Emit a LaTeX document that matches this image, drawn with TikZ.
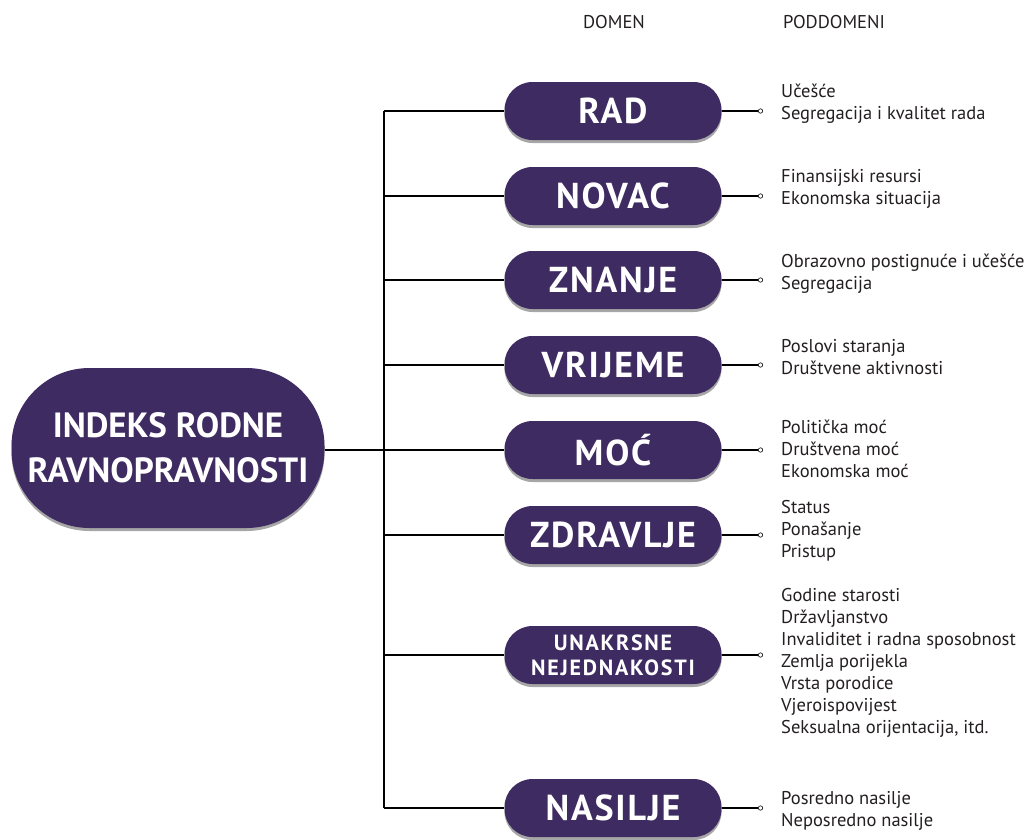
\documentclass[tikz,border=0pt]{standalone}
\usepackage{fontspec}
\setmainfont{PT Sans}
\usetikzlibrary{shadows,arrows.meta}
\definecolor{boxcol}{RGB}{62,43,97}
\definecolor{txtcol}{RGB}{35,31,32}
\tikzset{
  domainbox/.style={rectangle, rounded corners=28pt, fill=boxcol, text=white,
    minimum width=217pt, minimum height=58pt, inner sep=0pt,
    font=\fontsize{36}{37}\selectfont\bfseries\addfontfeature{LetterSpace=5},
    drop shadow={shadow xshift=0pt, shadow yshift=-3pt, opacity=0.35, fill=black}},
  mainbox/.style={rectangle, rounded corners=78pt, fill=boxcol, text=white,
    minimum width=313pt, minimum height=160pt, inner sep=0pt, align=center,
    font=\fontsize{35}{45}\selectfont\bfseries,
    drop shadow={shadow xshift=0pt, shadow yshift=-3pt, opacity=0.35, fill=black}},
  link/.style={draw=black, line width=1.3pt},
  sublink/.style={draw=black, line width=1.1pt, -{Circle[open,length=5pt,line width=0.6pt]}},
  subtext/.style={anchor=west, align=left, inner sep=0pt, text=txtcol,
    font=\fontsize{18.5}{22}\selectfont},
  header/.style={inner sep=0pt, text=txtcol, font=\fontsize{18.5}{20}\selectfont}
}
\begin{document}
\begin{tikzpicture}[x=1pt,y=-1pt]
\useasboundingbox (0,0) rectangle (1034,839);

\node[header] (hdom) at (614,22) {DOMEN};
\node[header] (hsub) at (834,22) {PODDOMENI};

\node[mainbox] (main) at (168,448) {INDEKS RODNE\\RAVNOPRAVNOSTI};

\coordinate (spinetop) at (384,111);
\coordinate (spinebot) at (384,808);

\node[domainbox] (rad) at (613,111) {RAD};
\node[domainbox] (novac) at (613,196) {NOVAC};
\node[domainbox] (znanje) at (613,280) {ZNANJE};
\node[domainbox] (vrijeme) at (613,365) {VRIJEME};
\node[domainbox] (moc) at (613,450) {MOĆ};
\node[domainbox] (zdravlje) at (613,535) {ZDRAVLJE};
\node[domainbox, align=center, font=\fontsize{22}{25}\selectfont\bfseries\addfontfeature{LetterSpace=8}] (unakrsne) at (613,655) {UNAKRSNE\\NEJEDNAKOSTI};
\node[domainbox] (nasilje) at (613,808) {NASILJE};

\draw[link] (spinetop) -- (spinebot);
\draw[link] (main.east |- 0,450) -- (spinetop |- 0,450);
\foreach \b in {rad,novac,znanje,vrijeme,moc,zdravlje,unakrsne,nasilje}{
  \draw[link] (\b.west -| spinetop) -- (\b.west);
}

\coordinate (crad) at (763,111);
\coordinate (cnovac) at (763,196);
\coordinate (cznanje) at (763,280);
\coordinate (cvrijeme) at (763,365);
\coordinate (cmoc) at (763,450);
\coordinate (czdravlje) at (763,535);
\coordinate (cunakrsne) at (763,655);
\coordinate (cnasilje) at (763,808);
\foreach \b in {rad,novac,znanje,vrijeme,moc,zdravlje,unakrsne,nasilje}{
  \draw[sublink] (\b.east) -- (c\b);
}

\node[subtext] (srad) at (781,104) {Učešće\\Segregacija i kvalitet rada};
\node[subtext] (snovac) at (781,189) {Finansijski resursi\\Ekonomska situacija};
\node[subtext] (sznanje) at (781,274) {Obrazovno postignuće i učešće\\Segregacija};
\node[subtext] (svrijeme) at (781,357) {Poslovi staranja\\Društvene aktivnosti};
\node[subtext] (smoc) at (781,449) {Politička moć\\Društvena moć\\Ekonomska moć};
\node[subtext] (szdravlje) at (781,531) {Status\\Ponašanje\\Pristup};
\node[subtext] (sunakrsne) at (781,663) {Godine starosti\\Državljanstvo\\Invaliditet i radna sposobnost\\Zemlja porijekla\\Vrsta porodice\\Vjeroispovijest\\Seksualna orijentacija, itd.};
\node[subtext] (snasilje) at (781,811) {Posredno nasilje\\Neposredno nasilje};
\end{tikzpicture}
\end{document}
